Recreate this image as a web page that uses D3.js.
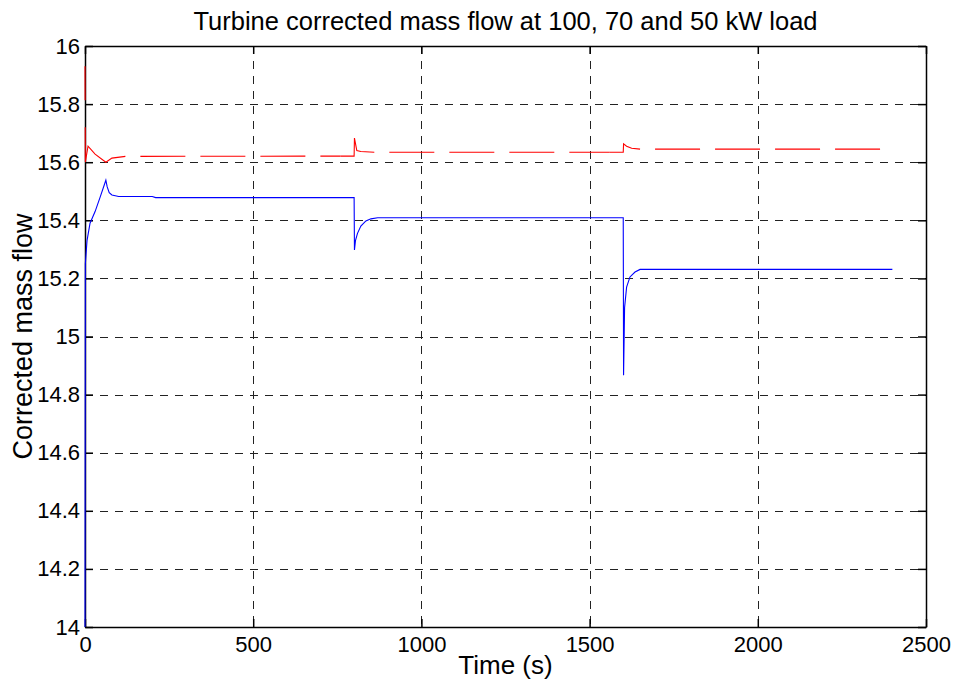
<!DOCTYPE html>
<html lang="en">
<head>
    <meta charset="UTF-8">
    <title>Turbine corrected mass flow</title>
    <script src="https://d3js.org/d3.v7.min.js"></script>
    <style>
        body { margin: 0; background: #fff; }
        text { font-family: "Liberation Sans", Arial, Helvetica, sans-serif; fill: #000; }
    </style>
</head>
<body>
<svg id="main" width="954" height="686"></svg>
<script>
    // time (s) / corrected mass flow, read as [t, value] pairs
    let blueT = [0, 1, 6, 15, 30, 45, 62, 66, 72, 80, 100, 200, 210, 800, 801, 804, 810, 820, 835, 850, 870, 1600, 1601, 1604, 1610, 1620, 1635, 1650, 2400];
    let blueV = [14.0, 15.25, 15.33, 15.39, 15.43, 15.48, 15.538, 15.515, 15.495, 15.487, 15.482, 15.482, 15.478, 15.478, 15.298, 15.33, 15.355, 15.38, 15.398, 15.405, 15.409, 15.409, 14.867, 15.1, 15.17, 15.205, 15.222, 15.231, 15.231];
    let redT = [0, 1, 9, 30, 62, 80, 120, 760, 800, 801, 808, 820, 860, 1560, 1600, 1601, 1610, 1625, 1650, 2400];
    let redV = [15.93, 15.6, 15.655, 15.628, 15.60, 15.614, 15.62, 15.621, 15.621, 15.683, 15.64, 15.637, 15.634, 15.634, 15.634, 15.663, 15.655, 15.648, 15.645, 15.645];
    let xTicks = [0, 500, 1000, 1500, 2000, 2500];
    let yTicks = [14, 14.2, 14.4, 14.6, 14.8, 15, 15.2, 15.4, 15.6, 15.8, 16];

    let svg = d3.select('#main');
    let margins = {left: 85, right: 28, top: 46, bottom: 59};
    let w = 954, h = 686;

    let xScale = d3.scaleLinear().domain([0, 2500]).range([margins.left, w - margins.right]);
    let yScale = d3.scaleLinear().domain([14, 16]).range([h - margins.bottom, margins.top]);

    // grid
    let grid = svg.append('g').attr('stroke', '#222').attr('stroke-width', 1).attr('stroke-dasharray', '8,7');
    grid.selectAll('.gx').data(xTicks.slice(1, -1)).enter().append('line')
        .attr('x1', d => Math.round(xScale(d)) + 0.5).attr('x2', d => Math.round(xScale(d)) + 0.5)
        .attr('y1', yScale(16)).attr('y2', yScale(14));
    grid.selectAll('.gy').data(yTicks.slice(1, -1)).enter().append('line')
        .attr('y1', d => Math.round(yScale(d)) + 0.5).attr('y2', d => Math.round(yScale(d)) + 0.5)
        .attr('x1', xScale(0)).attr('x2', xScale(2500));

    // axes box with inward ticks
    let xAxis = d3.axisBottom(xScale).tickValues(xTicks).tickSizeInner(-8).tickSizeOuter(0).tickPadding(9).tickFormat(d3.format('d'));
    let yAxis = d3.axisLeft(yScale).tickValues(yTicks).tickSizeInner(-8).tickSizeOuter(0).tickPadding(5).tickFormat(d3.format('~g'));
    let xTop = d3.axisTop(xScale).tickValues(xTicks).tickSizeInner(-8).tickSizeOuter(0).tickFormat('');
    let yRight = d3.axisRight(yScale).tickValues(yTicks).tickSizeInner(-8).tickSizeOuter(0).tickFormat('');

    svg.append('g').attr('transform', `translate(0,${yScale(14)})`).call(xAxis);
    svg.append('g').attr('transform', `translate(${xScale(0)},0)`).call(yAxis);
    svg.append('g').attr('transform', `translate(0,${yScale(16)})`).call(xTop);
    svg.append('g').attr('transform', `translate(${xScale(2500)},0)`).call(yRight);
    svg.selectAll('.domain, .tick line').attr('stroke', '#000').attr('stroke-width', 1.5);
    svg.selectAll('.tick text').style('font-size', '22px').attr('fill', '#000');

    // curves on top of the box
    let line = d3.line().x(d => xScale(d[0])).y(d => yScale(d[1]));
    svg.append('clipPath').attr('id', 'plot').append('rect')
        .attr('x', xScale(0) - 1).attr('y', yScale(16))
        .attr('width', xScale(2500) - xScale(0) + 1).attr('height', yScale(14) - yScale(16));

    // red: dashed on the flat stretches, solid through the load steps
    let red = d3.zip(redT, redV);
    let redParts = [
        {pts: red.slice(0, 2), dash: '34,27', offset: 0},
        {pts: red.slice(1, 7), dash: null, offset: 0},
        {pts: red.slice(6, 8), dash: '45,15', offset: 45},
        {pts: red.slice(7, 13), dash: null, offset: 0},
        {pts: red.slice(12, 14), dash: '45,15', offset: 45},
        {pts: red.slice(13, 19), dash: null, offset: 0},
        {pts: red.slice(18), dash: '45,15', offset: 45}
    ];
    redParts.forEach(function(p) {
        svg.append('path')
            .datum(p.pts)
            .attr('d', line)
            .attr('fill', 'none').attr('stroke', '#ff0000').attr('stroke-width', 1.1)
            .attr('stroke-dasharray', p.dash)
            .attr('stroke-dashoffset', p.offset)
            .attr('clip-path', 'url(#plot)');
    });
    svg.append('path')
        .datum(d3.zip(blueT, blueV))
        .attr('d', line)
        .attr('fill', 'none').attr('stroke', '#0000ff').attr('stroke-width', 1.1)
        .attr('clip-path', 'url(#plot)');

    svg.append('text').attr('x', (xScale(0) + xScale(2500)) / 2).attr('y', 30)
        .attr('text-anchor', 'middle').style('font-size', '25.5px')
        .text('Turbine corrected mass flow at 100, 70 and 50 kW load');
    svg.append('text').attr('x', (xScale(0) + xScale(2500)) / 2).attr('y', 674)
        .attr('text-anchor', 'middle').style('font-size', '26px')
        .text('Time (s)');
    svg.append('text')
        .attr('transform', `translate(32,${(yScale(14) + yScale(16)) / 2}) rotate(-90)`)
        .attr('text-anchor', 'middle').style('font-size', '27px')
        .text('Corrected mass flow');
</script>
</body>
</html>
